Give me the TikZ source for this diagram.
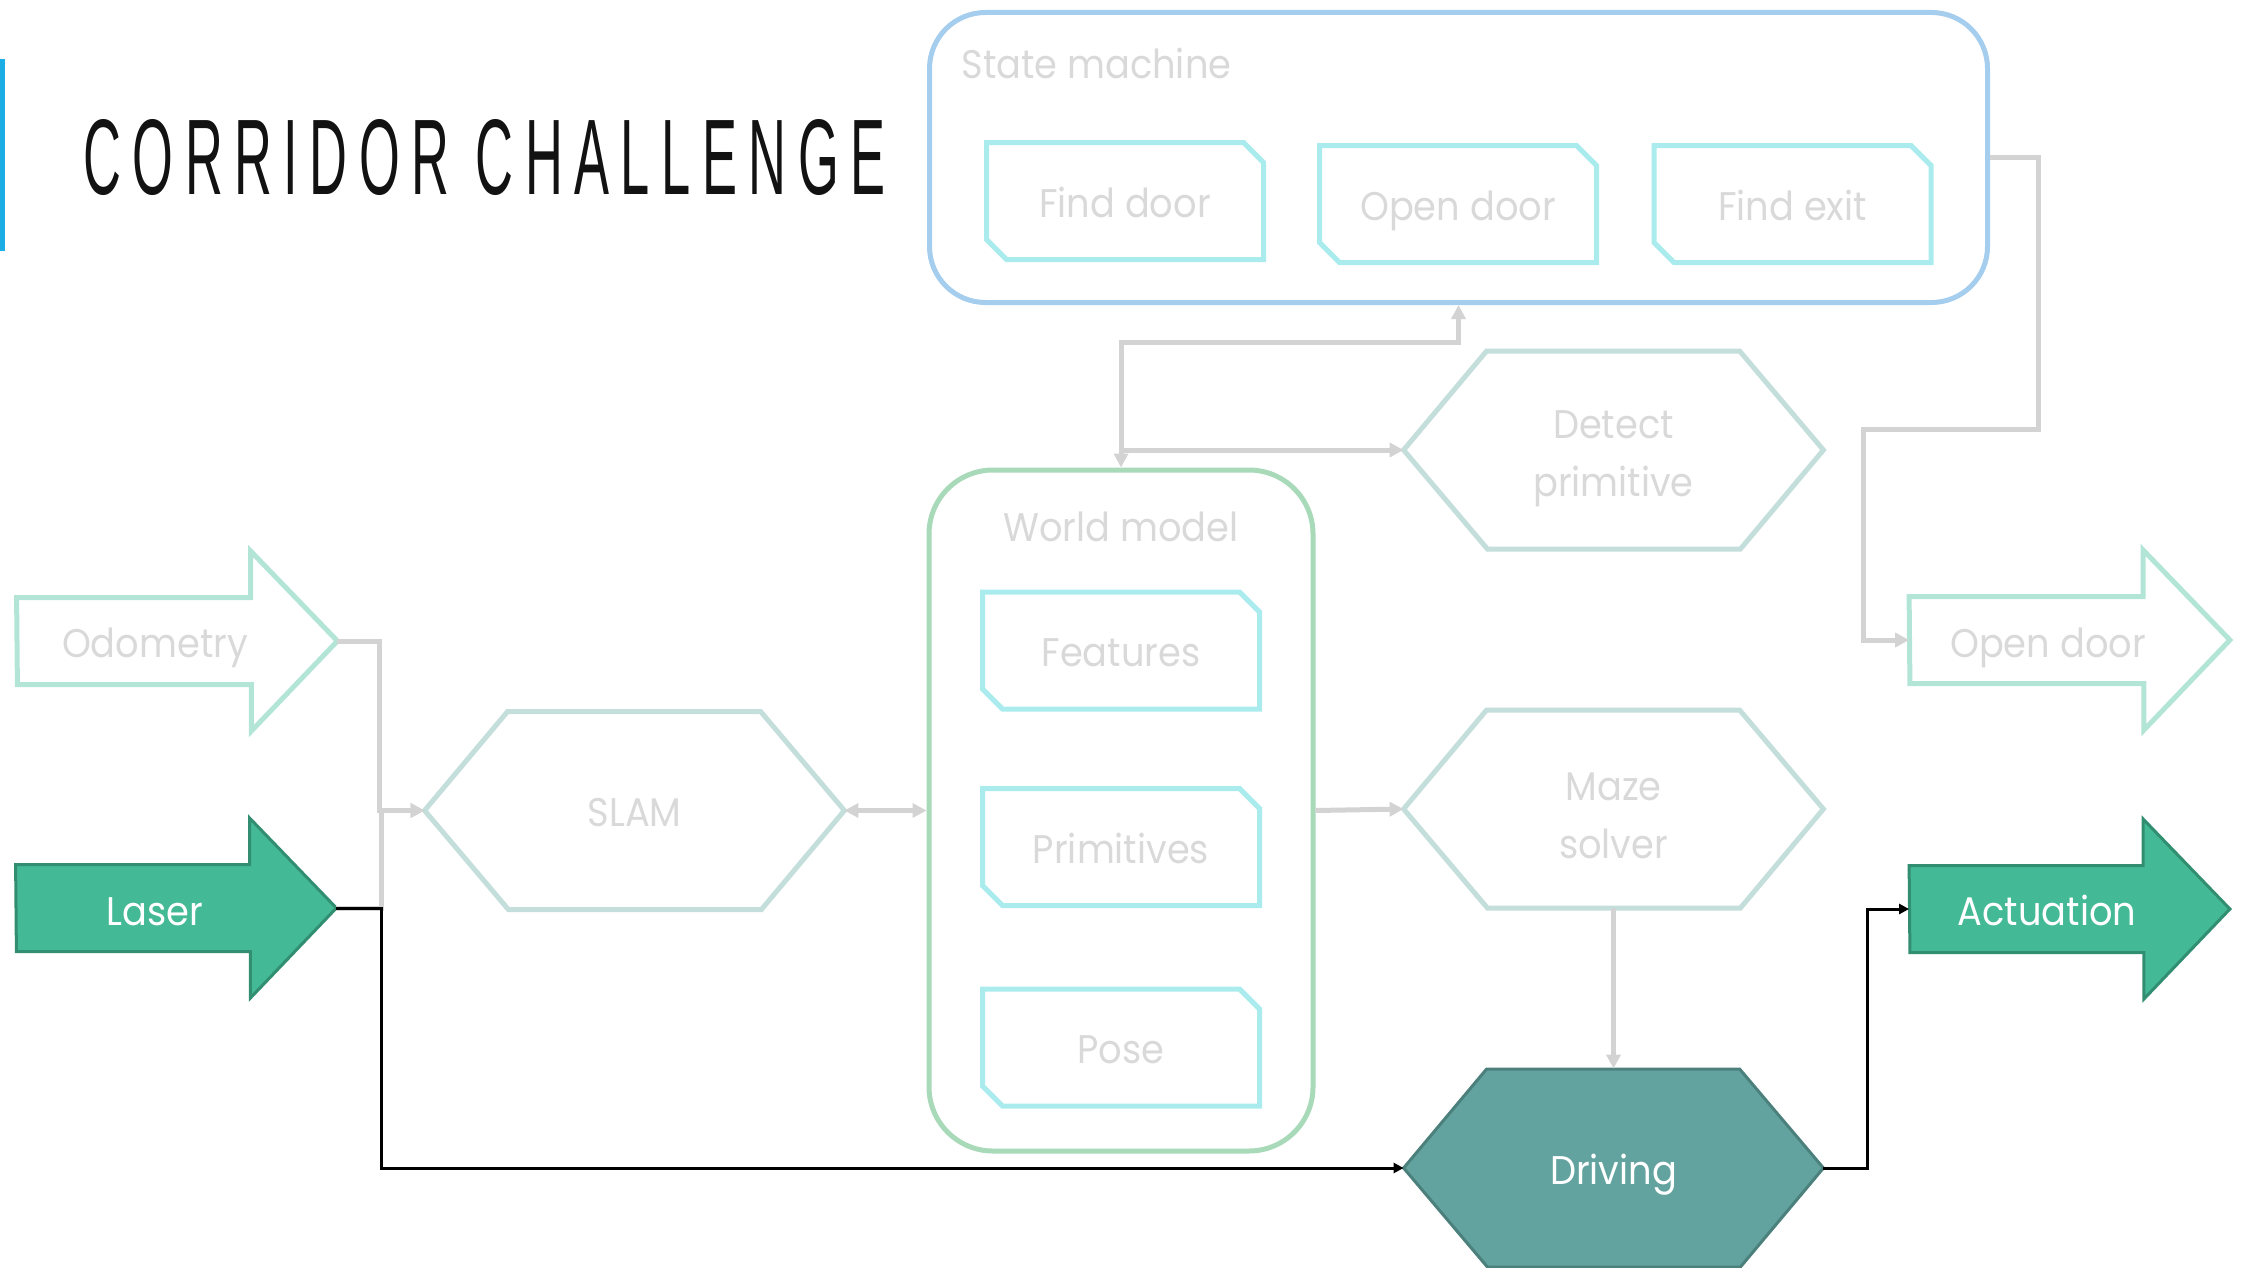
\documentclass[tikz,border=0pt]{standalone}
\usepackage{fontspec}
\usepackage{graphicx}
\setmainfont{Poppins}[FakeStretch=0.92]
\newfontfamily\titlefont[LetterSpace=22]{Liberation Sans}
\usetikzlibrary{arrows.meta,shapes.misc,backgrounds}

\definecolor{smblue}{HTML}{A4CDEE}
\definecolor{boxcyan}{HTML}{AAEBEE}
\definecolor{wmgreen}{HTML}{A8D9B8}
\definecolor{hexgray}{HTML}{C3DEDB}
\definecolor{mint}{HTML}{B3E5D6}
\definecolor{txtgray}{HTML}{D9D9D9}
\definecolor{linkgray}{HTML}{D3D3D3}
\definecolor{lasergreen}{HTML}{43B995}
\definecolor{laseredge}{HTML}{328E71}
\definecolor{driveteal}{HTML}{62A39F}
\definecolor{driveedge}{HTML}{4B807C}
\definecolor{titlebar}{HTML}{1CADE4}

% outline of the six-sided boxes, drawn round a node
\newcommand{\hexpath}[2]{\draw[#1] (#2.west) -- ++(83,-99) -- ++(253,0) -- (#2.east) -- ++(-83,99) -- ++(-253,0) -- cycle;}
% outline of the fat arrows
\newcommand{\arrowpath}[2]{\draw[#1] (#2.west) ++(0,-43.5) -- ++(234,0) -- ++(0,-46.5) -- (#2.east) -- ++(-86,90) -- ++(0,-46.5) -- ++(-234,0) -- cycle;}

\tikzset{
  lbl/.style={text=txtgray, font=\fontsize{20}{29}\selectfont, align=center, inner sep=0pt},
  oneline/.style={text height=16pt, text depth=0pt},
  statebox/.style={chamfered rectangle, chamfered rectangle corners={north east,south west},
    chamfered rectangle sep=5pt, draw=boxcyan, line width=2.5pt,
    minimum width=138.5pt, minimum height=58.5pt, lbl, oneline},
  hexnode/.style={minimum width=209.5pt, minimum height=99pt, lbl},
  bigarrow/.style={minimum width=160pt, minimum height=90pt, inner sep=0pt},
  gray link/.style={draw=linkgray, line width=2.5pt, -{Triangle[length=7pt,width=7pt]}},
  gray both/.style={draw=linkgray, line width=2.5pt, {Triangle[length=7pt,width=7pt]}-{Triangle[length=7pt,width=7pt]}},
  black link/.style={draw=black, line width=1.5pt, -{Triangle[length=5pt,width=5pt]}},
}

\begin{document}
\begin{tikzpicture}[x=0.5pt,y=-0.5pt]
\useasboundingbox (0,0) rectangle (2242,1268);

% title
\fill[titlebar] (0,59) rectangle (5,251);
\node[anchor=west, inner sep=0pt, text={black!93}] (title) at (83,158)
  {\resizebox{401pt}{37.5pt}{\titlefont CORRIDOR CHALLENGE}};

% state machine
\node[draw=smblue, line width=2.5pt, rounded corners=28pt, minimum width=529pt, minimum height=145pt] (sm) at (1458.5,157.5) {};
\node[lbl, oneline, anchor=west] (smlabel) at (961,63) {State machine};
\node[statebox] (finddoor) at (1125,201) {Find door};
\node[statebox] (opendoor) at (1458,204) {Open door};
\node[statebox] (findexit) at (1792.5,204) {Find exit};

% world model
\node[draw=wmgreen, line width=2.5pt, rounded corners=32pt, minimum width=192pt, minimum height=340.5pt] (wm) at (1121,810.5) {};
\node[lbl, oneline] (wmlabel) at (1121,525) {World model};
\node[statebox] (features) at (1121,650.5) {Features};
\node[statebox] (prims) at (1121,847) {Primitives};
\node[statebox] (pose) at (1121,1047.5) {Pose};

% processing blocks
\node[hexnode, oneline] (slam) at (634.5,810.5) {SLAM};
\node[hexnode] (dp) at (1613.5,450) {};
\node[lbl] (dptext) at (1613.5,459) {Detect\\primitive};
\node[hexnode] (maze) at (1613.5,809) {};
\node[lbl] (mazetext) at (1613.5,816) {Maze\\solver};
\node[hexnode, oneline, text=white] (drive) at (1613.5,1168) {Driving};

% inputs and outputs
\node[bigarrow] (odo) at (177,641) {};
\node[bigarrow] (laser) at (176,908) {};
\node[bigarrow] (od) at (2069.5,640) {};
\node[bigarrow] (act) at (2069.5,909) {};
\node[lbl, oneline] (odotext) at (155,641) {Odometry};
\node[lbl, oneline, text=white] (lasertext) at (155,909) {Laser};
\node[lbl, oneline] (odtext) at (2048,641) {Open door};
\node[lbl, oneline, text=white] (acttext) at (2047,909) {Actuation};

\begin{scope}[on background layer]
\hexpath{draw=hexgray, line width=2.5pt}{slam}
\hexpath{draw=hexgray, line width=2.5pt}{dp}
\hexpath{draw=hexgray, line width=2.5pt}{maze}
\hexpath{fill=driveteal, draw=driveedge, line width=1.5pt}{drive}
\arrowpath{draw=mint, line width=2.5pt}{odo}
\arrowpath{draw=mint, line width=2.5pt}{od}
\arrowpath{fill=lasergreen, draw=laseredge, line width=1.5pt}{laser}
\arrowpath{fill=lasergreen, draw=laseredge, line width=1.5pt}{act}
\end{scope}

% connectors
\draw[gray link] (odo.east) -- ++(42,0) |- (slam.west);
\draw[gray link] (laser.east) -- ++(45,0) |- (slam.west);
\draw[gray both] (slam.east) -- (wm.west);
\draw[gray link] (wm.east) -- (maze.west);
\draw[gray link] (maze.south) -- (drive.north);
\draw[gray both] (wm.north) -- ++(0,-125) -| (sm.south);
\draw[gray link] (wm.north |- dp.west) -- (dp.west);
\draw[gray link] (sm.east) -- ++(48,0) -- ++(0,271.5) -- (1863,429) |- (od.west);
\draw[black link] (laser.east) -- ++(45,0) |- (drive.west);
\draw[black link] (drive.east) -- ++(44,0) |- (act.west);
\end{tikzpicture}
\end{document}
